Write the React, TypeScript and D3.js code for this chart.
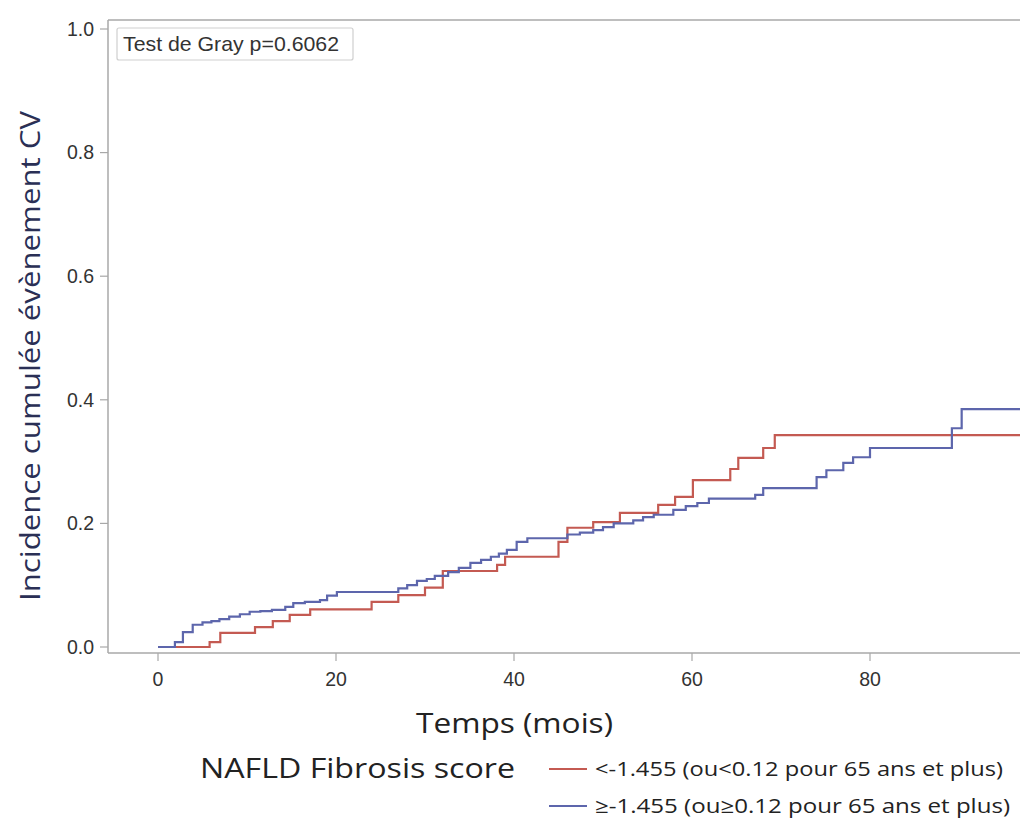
import React from "react";
import * as d3 from "d3";

const xTicks = [0, 20, 40, 60, 80];
const yTicks = [0, 0.2, 0.4, 0.6, 0.8, 1.0];

const redTimes = [0, 5.8, 7.0, 10.9, 12.9, 14.8, 17.1, 24.0, 27.0, 30.0, 32.0, 38.1, 39.0, 45.0, 46.0, 48.9, 51.9, 56.2, 58.1, 60.1, 64.3, 65.2, 68.0, 69.3, 100];
const redValues = [0, 0.008, 0.023, 0.032, 0.042, 0.052, 0.061, 0.073, 0.084, 0.096, 0.123, 0.133, 0.146, 0.17, 0.193, 0.202, 0.217, 0.23, 0.243, 0.27, 0.288, 0.306, 0.322, 0.343, 0.343];

const blueTimes = [0, 1.9, 2.8, 3.9, 5.0, 6.0, 6.9, 8.0, 9.2, 10.3, 11.5, 12.8, 14.3, 15.2, 16.5, 18.2, 19.0, 20.1, 27.0, 28.0, 29.1, 30.2, 31.1, 32.6, 33.8, 35.1, 36.3, 37.4, 38.3, 39.2, 40.3, 41.5, 46.0, 47.4, 48.9, 50.0, 51.2, 53.4, 54.5, 55.7, 57.9, 59.3, 60.6, 61.9, 67.1, 68.0, 74.0, 75.1, 77.0, 78.1, 80.0, 89.2, 90.3, 100];
const blueValues = [0, 0.008, 0.024, 0.036, 0.04, 0.042, 0.045, 0.049, 0.053, 0.057, 0.058, 0.06, 0.065, 0.071, 0.073, 0.076, 0.083, 0.089, 0.095, 0.1, 0.107, 0.11, 0.115, 0.121, 0.128, 0.136, 0.141, 0.146, 0.151, 0.157, 0.17, 0.176, 0.182, 0.185, 0.189, 0.194, 0.2, 0.205, 0.21, 0.214, 0.222, 0.228, 0.233, 0.24, 0.246, 0.257, 0.275, 0.286, 0.298, 0.307, 0.322, 0.354, 0.385, 0.385];

const seriesLabels = [
  "<-1.455 (ou<0.12 pour 65 ans et plus)",
  "\u2265-1.455 (ou\u22650.12 pour 65 ans et plus)",
];
const legendTitle = "NAFLD Fibrosis score";
const xTitle = "Temps (mois)";
const yTitle = "Incidence cumulée évènement CV";
const statText = "Test de Gray p=0.6062";

const RED = "#c45a52";
const BLUE = "#5d66ac";
const AXIS = "#a8a8a8";
const TICKTXT = "#333";
const TITLEFONT = "'Open Sans', sans-serif";
const TICKFONT = "'Liberation Sans', Arial, sans-serif";

export default function App() {
  const W = 1020, H = 818;
  const frameLeft = 108, frameTop = 20, frameBottom = 653;
  const x = d3.scaleLinear().domain([0, 100]).range([158, 1048]);
  const y = d3.scaleLinear().domain([0, 1]).range([647, 29]);

  const line = d3
    .line<[number, number]>()
    .x((d) => x(d[0]))
    .y((d) => y(d[1]))
    .curve(d3.curveStepAfter);

  const redPts: [number, number][] = redTimes.map((t, i) => [t, redValues[i]]);
  const bluePts: [number, number][] = blueTimes.map((t, i) => [t, blueValues[i]]);

  return (
    <svg
      width={W}
      height={H}
      style={{ position: "absolute", left: 0, top: 0, background: "#fff" }}
    >
      <defs>
        <clipPath id="plotclip">
          <rect x={frameLeft} y={frameTop} width={W - frameLeft} height={frameBottom - frameTop} />
        </clipPath>
      </defs>
      {/* frame */}
      <line x1={frameLeft} x2={W} y1={frameTop} y2={frameTop} stroke={AXIS} strokeWidth={1.5} />
      <line x1={frameLeft} x2={frameLeft} y1={frameTop} y2={frameBottom} stroke={AXIS} strokeWidth={1.5} />
      <line x1={frameLeft} x2={W} y1={frameBottom} y2={frameBottom} stroke={AXIS} strokeWidth={1.5} />

      {/* y ticks */}
      {yTicks.map((v) => (
        <g key={"y" + v}>
          <line x1={frameLeft - 8} x2={frameLeft} y1={y(v)} y2={y(v)} stroke={AXIS} strokeWidth={1.2} />
          <text
            x={frameLeft - 14}
            y={y(v)}
            dy="0.35em"
            textAnchor="end"
            fontFamily={TICKFONT}
            fontSize={19.5}
            fill={TICKTXT}
          >
            {v.toFixed(1)}
          </text>
        </g>
      ))}

      {/* x ticks */}
      {xTicks.map((t) => (
        <g key={"x" + t}>
          <line x1={x(t)} x2={x(t)} y1={frameBottom} y2={frameBottom + 8} stroke={AXIS} strokeWidth={1.2} />
          <text
            x={x(t)}
            y={686}
            textAnchor="middle"
            fontFamily={TICKFONT}
            fontSize={19.5}
            fill={TICKTXT}
          >
            {t}
          </text>
        </g>
      ))}

      {/* curves */}
      <g clipPath="url(#plotclip)">
        <path d={line(redPts) || ""} fill="none" stroke={RED} strokeWidth={2.2} />
        <path d={line(bluePts) || ""} fill="none" stroke={BLUE} strokeWidth={2.2} />
      </g>

      {/* stat box */}
      <rect x={117} y={28} width={236} height={32} fill="#fff" stroke="#cfcfcf" strokeWidth={1.2} rx={2} />
      <text x={123} y={51} fontFamily={TICKFONT} fontSize={21} textLength={216} lengthAdjust="spacingAndGlyphs" fill={TICKTXT}>
        {statText}
      </text>

      {/* axis titles */}
      <text x={416} y={733} fontFamily={TITLEFONT} fontSize={27} textLength={197} lengthAdjust="spacingAndGlyphs" fill="#222">
        {xTitle}
      </text>
      <text
        transform={`translate(40,601) rotate(-90)`}
        fontFamily={TITLEFONT}
        fontSize={27}
        textLength={490}
        lengthAdjust="spacingAndGlyphs"
        fill="#2a2f55"
      >
        {yTitle}
      </text>

      {/* legend */}
      <text x={200} y={778} fontFamily={TITLEFONT} fontSize={27} textLength={315} lengthAdjust="spacingAndGlyphs" fill="#222">
        {legendTitle}
      </text>
      {[RED, BLUE].map((c, i) => (
        <g key={"lg" + i}>
          <line x1={549} x2={587} y1={769 + i * 37} y2={769 + i * 37} stroke={c} strokeWidth={1.8} />
          <text
            x={595}
            y={776 + i * 37}
            fontFamily={TITLEFONT}
            fontSize={20}
            textLength={i === 0 ? 408 : 415}
            lengthAdjust="spacingAndGlyphs"
            fill="#222"
          >
            {seriesLabels[i]}
          </text>
        </g>
      ))}
    </svg>
  );
}
